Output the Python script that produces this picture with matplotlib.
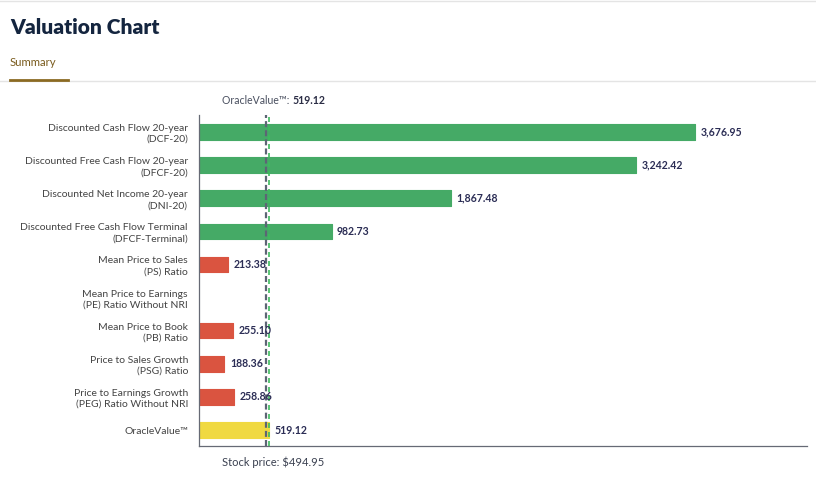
import matplotlib
matplotlib.use("Agg")
import matplotlib.pyplot as plt
from matplotlib.lines import Line2D

categories = [
    "Discounted Cash Flow 20-year\n(DCF-20)",
    "Discounted Free Cash Flow 20-year\n(DFCF-20)",
    "Discounted Net Income 20-year\n(DNI-20)",
    "Discounted Free Cash Flow Terminal\n(DFCF-Terminal)",
    "Mean Price to Sales\n(PS) Ratio",
    "Mean Price to Earnings\n(PE) Ratio Without NRI",
    "Mean Price to Book\n(PB) Ratio",
    "Price to Sales Growth\n(PSG) Ratio",
    "Price to Earnings Growth\n(PEG) Ratio Without NRI",
    "OracleValue\u2122",
]
values = [3676.95, 3242.42, 1867.48, 982.73, 213.38, None, 255.10, 188.36, 258.86, 519.12]
kinds = ["g", "g", "g", "g", "r", "r", "r", "r", "r", "y"]
oracle_value = 519.12
stock_price = 494.95
x_max = 4507

colors = {"g": "#45AA66", "r": "#DA5440", "y": "#F0D941"}

plt.rcParams['font.family'] = ['Lato', 'DejaVu Sans']

fig = plt.figure(figsize=(8.16, 4.78), dpi=100)
ax = fig.add_axes([199/816, (478-446)/478, 608/816, (446-115)/478])

for i, (v, k) in enumerate(zip(values, kinds)):
    if v is None:
        continue
    ax.barh(i, v, height=0.47, color=colors[k], edgecolor=colors[k], linewidth=0.8,
            joinstyle='round', zorder=2)
    ax.text(v + 40, i, f"{v:,.2f}", va='center', ha='left', fontsize=7.6,
            fontweight='bold', color='#2b2d55', zorder=4)

ax.axvline(stock_price, color='#5d6575', linestyle=(0, (2.7, 1.4)), linewidth=1.6, zorder=3)
ax.axvline(oracle_value, color='#3dbb5d', linestyle=(0, (3, 2.4)), linewidth=1.2, zorder=3)

ax.set_xlim(0, x_max)
ax.set_ylim(9.48, -0.51)
ax.set_yticks(range(len(categories)))
ax.set_yticklabels(categories, fontsize=7.5, color='#444444', linespacing=1.3)
ax.tick_params(axis='y', length=0, pad=8)
ax.set_xticks([])
for s in ['top', 'right']:
    ax.spines[s].set_visible(False)
ax.spines['left'].set_color('#666a75')
ax.spines['bottom'].set_color('#666a75')
ax.spines['left'].set_linewidth(0.9)
ax.spines['bottom'].set_linewidth(0.9)

# header
fig.text(10/816, 1 - 27/478, "Valuation Chart", fontsize=15, fontweight='heavy',
         color='#14253f', va='center', ha='left')
fig.text(10/816, 1 - 62/478, "Summary", fontsize=8.2, color='#7a5c1e', va='center', ha='left')
fig.add_artist(Line2D([0, 1], [1 - 81/478, 1 - 81/478], color='#e4e4e4', linewidth=1,
                      transform=fig.transFigure))
fig.add_artist(Line2D([0, 1], [1 - 1/478, 1 - 1/478], color='#e4e4e4', linewidth=1,
                      transform=fig.transFigure))
fig.add_artist(Line2D([10/816, 68/816], [1 - 79.5/478, 1 - 79.5/478], color='#8B6A22',
                      linewidth=2, transform=fig.transFigure))

t1 = fig.text(222/816, 1 - 101/478, "OracleValue\u2122: ", fontsize=7.6, color='#4a5060',
              va='center', ha='left')
fig.canvas.draw()
bb = t1.get_window_extent()
fig.text(bb.x1 / fig.bbox.width, 1 - 101/478, f"{oracle_value:.2f}", fontsize=7.6,
         fontweight='bold', color='#2b2d45', va='center', ha='left')
fig.text(222/816, 1 - 462/478, f"Stock price: ${stock_price:.2f}", fontsize=8,
         color='#3a4050', va='center', ha='left')

fig.savefig("out.png", dpi=100)
